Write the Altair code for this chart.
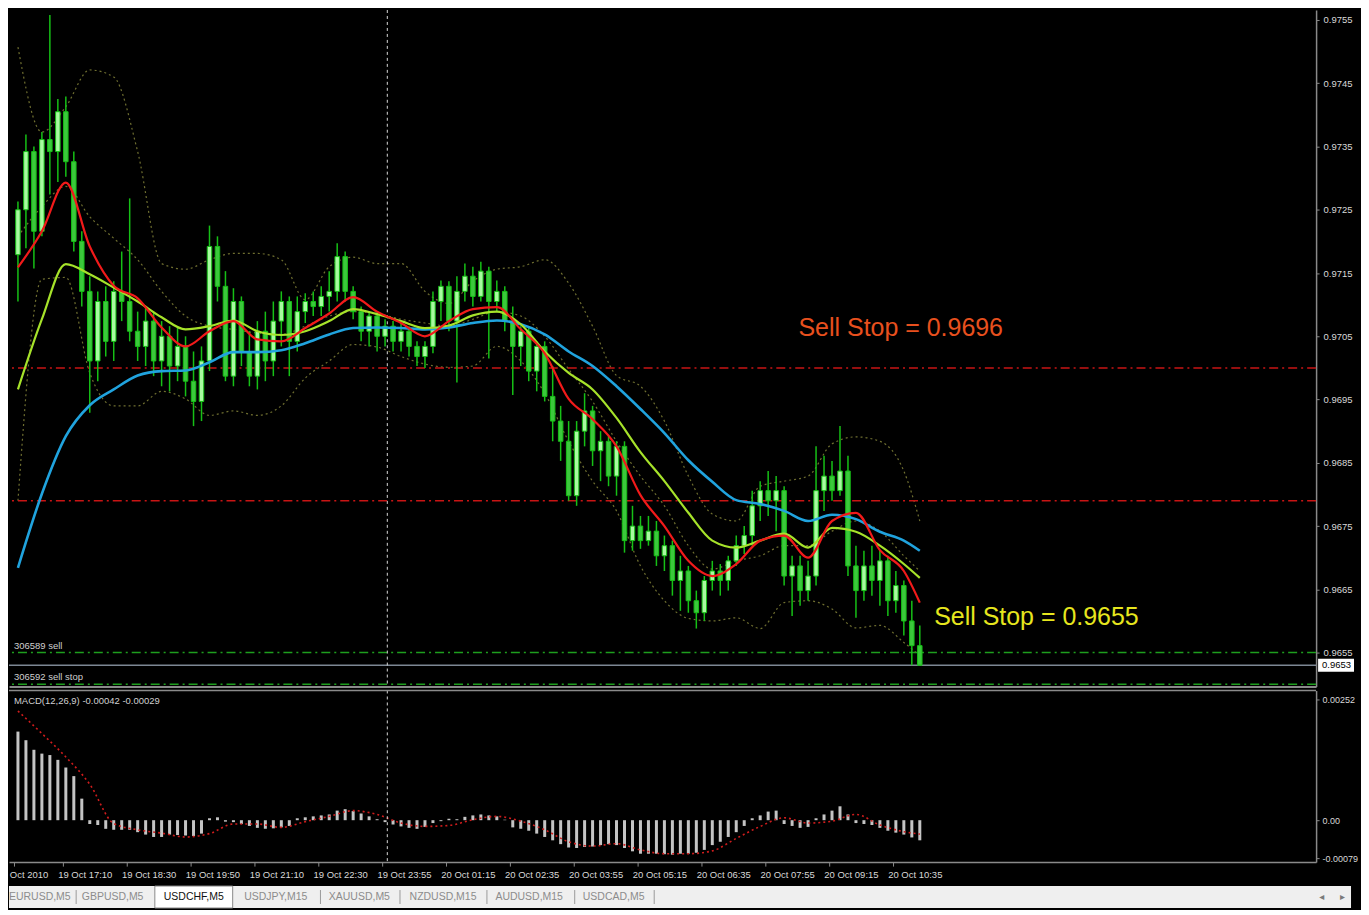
import json
import altair as alt
import pandas as pd

# ---------------- chart values ----------------
# candles: one bar per 10 minutes, open of each bar = previous close
first_open = 0.97179
close = [0.9725, 0.97342, 0.97216, 0.97361, 0.97342, 0.97405, 0.97326, 0.9720, 0.97121, 0.97011,
         0.97105, 0.97042, 0.97121, 0.97105, 0.97058, 0.97034, 0.97074, 0.97011, 0.9705, 0.97003,
         0.97034, 0.96979, 0.96947, 0.97011, 0.97192, 0.97129, 0.96987, 0.97105, 0.97026, 0.96987,
         0.97058, 0.97011, 0.97074, 0.97105, 0.97042, 0.97089, 0.97105, 0.97097, 0.97113, 0.97121,
         0.97176, 0.97121, 0.97089, 0.97058, 0.97082, 0.9705, 0.97066, 0.97042, 0.97058, 0.97034,
         0.97018, 0.97034, 0.97105, 0.97129, 0.97074, 0.97121, 0.97145, 0.97113, 0.97153, 0.97105,
         0.97121, 0.97074, 0.97034, 0.97058, 0.96995, 0.97034, 0.96955, 0.96916, 0.96884, 0.96798,
         0.969, 0.96932, 0.96869, 0.96884, 0.96829, 0.96876, 0.96727, 0.9675, 0.96727, 0.96742,
         0.96703, 0.96719, 0.96664, 0.96679, 0.96632, 0.96613, 0.96664, 0.96679, 0.96664, 0.96695,
         0.96719, 0.96735, 0.96782, 0.96806, 0.9679, 0.96806, 0.96671, 0.96687, 0.96648, 0.96671,
         0.96806, 0.96829, 0.96806, 0.96837, 0.96687, 0.96648, 0.96687, 0.96664, 0.96695, 0.96632,
         0.96656, 0.966, 0.96561, 0.9653]
high = [0.97263, 0.97369, 0.9735, 0.97373, 0.97558, 0.97425, 0.97429, 0.97342, 0.97216, 0.97145,
        0.97121, 0.97129, 0.97137, 0.97184, 0.97268, 0.97089, 0.97097, 0.97089, 0.97074, 0.97066,
        0.97066, 0.9705, 0.97026, 0.97034, 0.97225, 0.97208, 0.97153, 0.97126, 0.97113, 0.97058,
        0.97074, 0.97089, 0.97105, 0.97121, 0.97113, 0.97113, 0.97118, 0.97121, 0.97129, 0.97153,
        0.97197, 0.97184, 0.97129, 0.97097, 0.97089, 0.97089, 0.97077, 0.97074, 0.97071, 0.97066,
        0.97042, 0.97042, 0.97121, 0.97138, 0.97137, 0.97145, 0.97165, 0.9716, 0.97168, 0.9716,
        0.97138, 0.97129, 0.97097, 0.97066, 0.97066, 0.97042, 0.97042, 0.97003, 0.9694, 0.96916,
        0.96916, 0.9696, 0.9694, 0.969, 0.96892, 0.96884, 0.96884, 0.96782, 0.96766, 0.96766,
        0.96758, 0.96735, 0.96727, 0.96703, 0.96687, 0.96648, 0.96671, 0.96695, 0.9669, 0.96703,
        0.96735, 0.9675, 0.96806, 0.96821, 0.96837, 0.96829, 0.96813, 0.96703, 0.96703, 0.96695,
        0.96876, 0.96861, 0.96853, 0.96908, 0.96861, 0.96719, 0.96711, 0.96719, 0.96711, 0.96703,
        0.96679, 0.96664, 0.96632, 0.96593]
low = [0.97105, 0.97189, 0.97157, 0.97208, 0.97274, 0.97294, 0.97302, 0.97184, 0.97097, 0.96929,
       0.96979, 0.97018, 0.97011, 0.97074, 0.97042, 0.97011, 0.97003, 0.96987, 0.96971, 0.96963,
       0.96979, 0.96955, 0.96908, 0.96916, 0.96995, 0.97105, 0.96979, 0.96971, 0.97003, 0.96971,
       0.96966, 0.96979, 0.96987, 0.97034, 0.96987, 0.97026, 0.97071, 0.97082, 0.97082, 0.97089,
       0.97105, 0.97105, 0.97077, 0.97042, 0.97034, 0.97026, 0.97034, 0.97026, 0.97026, 0.97018,
       0.97003, 0.9700, 0.97023, 0.97074, 0.97058, 0.96977, 0.97105, 0.97097, 0.97105, 0.97015,
       0.97089, 0.97058, 0.96957, 0.97003, 0.96979, 0.96963, 0.96947, 0.96884, 0.96853, 0.9679,
       0.96782, 0.96876, 0.96845, 0.96821, 0.96813, 0.96798, 0.96708, 0.96711, 0.96714, 0.96719,
       0.96687, 0.96679, 0.9664, 0.96616, 0.96613, 0.96588, 0.966, 0.96648, 0.9664, 0.96648,
       0.96687, 0.96706, 0.96719, 0.96758, 0.96766, 0.96742, 0.96656, 0.96608, 0.96624, 0.96632,
       0.96656, 0.96774, 0.9679, 0.96798, 0.96671, 0.96605, 0.96632, 0.9664, 0.96624, 0.96608,
       0.96613, 0.96577, 0.9653, 0.9653]

macd_hist = [0.00185, 0.00167, 0.00147, 0.00139, 0.00136, 0.00126, 0.0011, 0.00092, 0.00045, -0.00008,
             -0.0001, -0.00018, -0.0002, -0.0002, -0.0002, -0.00025, -0.0003, -0.00035, -0.00035, -0.0003,
             -0.00031, -0.00032, -0.00033, -0.00028, 0.00004, 0.00006, -0.00003, -0.00004, -0.00008, -0.00012,
             -0.00016, -0.00018, -0.00017, -0.00015, -0.00012, 0.00004, 0.00006, 0.00008, 0.0001, 0.00012,
             0.0002, 0.00023, 0.00019, 0.00014, 0.00008, 0.00002, -0.00004, -0.00009, -0.00013, -0.00016,
             -0.00018, -0.00014, -0.00006, -0.00002, 0.00003, 0.00002, 0.00007, 0.0001, 0.00012, 0.0001,
             0.00008, 0.00001, -0.00015, -0.00018, -0.00022, -0.00028, -0.00035, -0.00042, -0.0005, -0.00057,
             -0.00058, -0.00056, -0.00055, -0.00052, -0.0005, -0.00052, -0.00058, -0.00065, -0.0007, -0.0007,
             -0.0007, -0.00071, -0.00072, -0.0007, -0.0007, -0.00068, -0.00062, -0.00052, -0.00045, -0.00035,
             -0.00025, -0.00012, 0.00004, 0.0001, 0.00018, 0.0002, -0.00008, -0.00012, -0.00016, -0.00014,
             0.00004, 0.00012, 0.0002, 0.00029, 0.00012, -0.00006, -0.00008, -0.0001, -0.00016, -0.00022,
             -0.00026, -0.0003, -0.00036, -0.00042]

# indicator lines, read every third bar
ma_bars = [0, 3, 6, 9, 12, 15, 18, 21, 24, 27, 30, 33, 36, 39, 42, 45, 48, 51, 54, 57,
           60, 63, 66, 69, 72, 75, 78, 81, 84, 87, 90, 93, 96, 99, 102, 105, 108, 111, 113]
ma_fast = [0.97159, 0.97216, 0.97293, 0.97192, 0.9713, 0.9711, 0.97064, 0.97034, 0.97058, 0.97074,
           0.97045, 0.97042, 0.97063, 0.97086, 0.97112, 0.97089, 0.97071, 0.9705, 0.97074, 0.97093,
           0.97096, 0.97061, 0.97023, 0.96951, 0.96919, 0.96876, 0.96799, 0.9675, 0.96695, 0.96671,
           0.9669, 0.96727, 0.96735, 0.967, 0.96758, 0.96771, 0.96712, 0.96679, 0.96629]
ma_mid = [0.96966, 0.97077, 0.97164, 0.97148, 0.97127, 0.97105, 0.9708, 0.97061, 0.97066, 0.97075,
          0.97058, 0.97052, 0.97058, 0.97074, 0.97093, 0.97085, 0.97074, 0.97063, 0.97067, 0.97083,
          0.97089, 0.97069, 0.97026, 0.96992, 0.96966, 0.96921, 0.96867, 0.96821, 0.96771, 0.96727,
          0.96716, 0.96727, 0.96738, 0.96716, 0.96747, 0.96741, 0.96719, 0.9669, 0.96668]
ma_slow = [0.96684, 0.96801, 0.96892, 0.96941, 0.96966, 0.96988, 0.96995, 0.96996, 0.97009, 0.97025,
           0.97025, 0.97028, 0.97039, 0.97053, 0.97063, 0.97064, 0.97063, 0.97061, 0.97064, 0.97071,
           0.97075, 0.97069, 0.97053, 0.97026, 0.97003, 0.96971, 0.96935, 0.96897, 0.96854, 0.9682,
           0.96791, 0.96785, 0.96774, 0.96758, 0.96768, 0.96761, 0.96741, 0.96727, 0.96711]
bb_upper = [0.97507, 0.97373, 0.97413, 0.97471, 0.9746, 0.97342, 0.97165, 0.97156, 0.97171, 0.97181,
            0.97181, 0.97171, 0.97108, 0.9716, 0.97175, 0.97165, 0.97165, 0.97121, 0.97102, 0.97137,
            0.97156, 0.9716, 0.97171, 0.97134, 0.97066, 0.96988, 0.96971, 0.96916, 0.96829, 0.96769,
            0.96758, 0.96813, 0.96821, 0.96829, 0.9688, 0.96891, 0.96884, 0.96837, 0.96758]
bb_middle = [0.97208, 0.97255, 0.97287, 0.97239, 0.97205, 0.97171, 0.97121, 0.97082, 0.97066, 0.97061,
             0.97055, 0.97053, 0.97066, 0.97082, 0.97089, 0.97086, 0.97077, 0.97071, 0.97066, 0.97077,
             0.97089, 0.97082, 0.9705, 0.96998, 0.96947, 0.96884, 0.96829, 0.96782, 0.96719, 0.96682,
             0.96695, 0.96703, 0.96719, 0.96719, 0.96742, 0.96758, 0.96742, 0.96703, 0.96679]
bb_lower = [0.9679, 0.9714, 0.97143, 0.96992, 0.9694, 0.9694, 0.96963, 0.96951, 0.96925, 0.96932,
            0.96925, 0.9694, 0.96984, 0.97011, 0.97037, 0.97033, 0.97018, 0.97006, 0.97001, 0.97003,
            0.97034, 0.97011, 0.9696, 0.96884, 0.96821, 0.96774, 0.96687, 0.96632, 0.96604, 0.966,
            0.96605, 0.96588, 0.96629, 0.96632, 0.96619, 0.96589, 0.96593, 0.96566, 0.96545]
macd_signal = [0.00228, 0.00181, 0.00132, 0.00075, -0.00007, -0.0002, -0.00027, -0.00035, -0.00028, -0.00008,
               -0.00008, -0.00015, -0.00003, 0.00008, 0.0002, 0.00012, -0.00006, -0.00013, -0.00011, 0.00001,
               0.00008, -0.00002, -0.0002, -0.00045, -0.00054, -0.00049, -0.00062, -0.0007, -0.0007, -0.00064,
               -0.00038, -0.00013, 0.00005, -0.00006, -0.00002, 0.00012, -0.0001, -0.00024, -0.00029]

price_ticks = [0.9655, 0.9665, 0.9675, 0.9685, 0.9695, 0.9705, 0.9715, 0.9725, 0.9735, 0.9745, 0.9755]
macd_ticks = [0.00252, 0.0, -0.00079]
macd_tick_labels = ["0.00252", "0.00", "-0.00079"]
time_tick_bars = [-0.45, 5.6, 13.6, 21.6, 29.6, 37.6, 45.6, 53.6, 61.6, 69.6, 77.6, 85.6, 93.6, 101.6, 109.6]
time_tick_labels = ["Oct 2010", "19 Oct 17:10", "19 Oct 18:30", "19 Oct 19:50", "19 Oct 21:10",
                    "19 Oct 22:30", "19 Oct 23:55", "20 Oct 01:15", "20 Oct 02:35", "20 Oct 03:55",
                    "20 Oct 05:15", "20 Oct 06:35", "20 Oct 07:55", "20 Oct 09:15", "20 Oct 10:35"]

red_levels = [0.9700, 0.9679]
green_levels = [0.9655, 0.9650]
order_labels = ["306589 sell", "306592 sell stop"]
bid_price = 0.9653
separator_bars = [46.28]
macd_title = "MACD(12,26,9) -0.00042 -0.00029"

note_red = {"text": "Sell Stop = 0.9696", "bar": 97.8, "price": 0.97063}
note_yellow = {"text": "Sell Stop = 0.9655", "bar": 114.8, "price": 0.96607}

tab_names = ["EURUSD,M5", "GBPUSD,M5", "USDCHF,M5", "USDJPY,M15", "XAUUSD,M5",
             "NZDUSD,M15", "AUDUSD,M15", "USDCAD,M5"]
tab_slots = [0.0, 0.95, 1.93, 2.92, 3.93, 4.94, 5.98, 7.0]
tab_separators = [0.51, 3.46, 4.42, 5.47, 6.53, 7.49]
active_tab = "USDCHF,M5"
active_span = [1.46, 2.40]

# ---------------- layout & style ----------------
W = 1310
H_MAIN = 678
H_MACD = 172
TAB_W = 1345
TAB_H = 22
x_domain = [-0.496, 162.03]
price_domain = [0.964964, 0.975658]
macd_domain = [-0.000875, 0.002708]

FONT = "Liberation Sans, Arial, sans-serif"
GRAY = "#8a8a8a"
LABEL = "#d8d8d8"

candles = pd.DataFrame({
    "i": list(range(len(close))),
    "open": [first_open] + close[:-1],
    "close": close,
    "high": high,
    "low": low,
})
lines = pd.DataFrame({"i": ma_bars, "fast": ma_fast, "mid": ma_mid, "slow": ma_slow,
                      "upper": bb_upper, "middle": bb_middle, "lower": bb_lower,
                      "signal": macd_signal})
hist_df = pd.DataFrame({"i": list(range(len(macd_hist))), "hist": macd_hist,
                        "zero": [0.0] * len(macd_hist)})

x_scale = alt.Scale(domain=x_domain, nice=False, zero=False)
y_scale = alt.Scale(domain=price_domain, nice=False, zero=False)
m_scale = alt.Scale(domain=macd_domain, nice=False, zero=False)

main_x_axis = alt.Axis(labels=False, ticks=False, grid=False, domain=True,
                       domainColor=GRAY, domainWidth=2, title=None)
main_y_axis = alt.Axis(orient="right", values=price_ticks, format=".4f", grid=False,
                       domainColor=GRAY, domainWidth=1.5, tickColor=GRAY, tickSize=3,
                       labelPadding=4, labelColor=LABEL, labelFont=FONT, labelFontSize=9.5,
                       title=None)
time_expr = f"{json.dumps(time_tick_labels)}[indexof({json.dumps(time_tick_bars)}, datum.value)]"
macd_x_axis = alt.Axis(values=time_tick_bars, labelExpr=time_expr, labelAlign="left",
                       labelOffset=-5, labelFlush=False, labelOverlap=False, grid=False,
                       domainColor=GRAY, domainWidth=1.5, tickColor=GRAY, tickSize=4,
                       labelPadding=3, labelColor=LABEL, labelFont=FONT, labelFontSize=9.5,
                       title=None)
macd_expr = f"{json.dumps(macd_tick_labels)}[indexof({json.dumps(macd_ticks)}, datum.value)]"
macd_y_axis = alt.Axis(orient="right", values=macd_ticks, labelExpr=macd_expr, grid=False,
                       domainColor=GRAY, domainWidth=1.5, tickColor=GRAY, tickSize=3,
                       labelPadding=3, labelColor=LABEL, labelFont=FONT, labelFontSize=9,
                       title=None)


def MX(f):
    return alt.X(f"{f}:Q", scale=x_scale, axis=main_x_axis)


def MY(f):
    return alt.Y(f"{f}:Q", scale=y_scale, axis=main_y_axis)


def NX(f):
    return alt.X(f"{f}:Q", scale=x_scale, axis=macd_x_axis)


def NY(f):
    return alt.Y(f"{f}:Q", scale=m_scale, axis=macd_y_axis)


BAND = "#6f6f30"
band_layers = [
    alt.Chart(lines).mark_line(color=BAND, strokeDash=[2, 3], strokeWidth=1.2,
                               interpolate="monotone").encode(x=MX("i"), y=MY(col))
    for col in ("upper", "middle", "lower")
]
red_rules = alt.Chart(pd.DataFrame({"price": red_levels})).mark_rule(
    color="#C81414", strokeDash=[9, 4, 2, 4], strokeWidth=1.5).encode(y=MY("price"))
green_rules = alt.Chart(pd.DataFrame({"price": green_levels})).mark_rule(
    color="#1E9E1E", strokeDash=[9, 4, 2, 4], strokeWidth=1.5).encode(y=MY("price"))
bid_rule = alt.Chart(pd.DataFrame({"price": [bid_price]})).mark_rule(
    color="#7d8794", strokeWidth=1.5).encode(y=MY("price"))
sep_main = alt.Chart(pd.DataFrame({"i": separator_bars})).mark_rule(
    color="#d8d8d8", strokeDash=[3, 3], strokeWidth=1).encode(x=MX("i"))

wicks = alt.Chart(candles).mark_rule(color="#16C016", strokeWidth=1.5).encode(
    x=MX("i"), y=MY("low"), y2="high")
bodies = alt.Chart(candles).mark_bar(size=4.5, orient="vertical", stroke="#16C016",
                                     strokeWidth=1).encode(
    x=MX("i"), y=MY("open"), y2="close",
    fill=alt.condition("datum.close >= datum.open", alt.value("#A8FAA0"), alt.value("#3CC83C")))

ma_red = alt.Chart(lines).mark_line(color="#F21A1A", strokeWidth=2.2,
                                    interpolate="monotone").encode(x=MX("i"), y=MY("fast"))
ma_yel = alt.Chart(lines).mark_line(color="#A6E22A", strokeWidth=2.2,
                                    interpolate="monotone").encode(x=MX("i"), y=MY("mid"))
ma_blue = alt.Chart(lines).mark_line(color="#20A3DE", strokeWidth=2.6,
                                     interpolate="monotone").encode(x=MX("i"), y=MY("slow"))

order_df = pd.DataFrame({"i": [x_domain[0]] * 2, "price": green_levels, "label": order_labels})
order_text = alt.Chart(order_df).mark_text(align="left", baseline="bottom", dy=-2,
                                           fontSize=9.5, font=FONT, color="#cfcfcf").encode(
    x=MX("i"), y=MY("price"), text="label:N")

note1 = alt.Chart(pd.DataFrame([note_red])).mark_text(
    align="left", baseline="middle", font=FONT, fontSize=25, color="#E8501E").encode(
    x=MX("bar"), y=MY("price"), text="text:N")
note2 = alt.Chart(pd.DataFrame([note_yellow])).mark_text(
    align="left", baseline="middle", font=FONT, fontSize=25, color="#E6E61E").encode(
    x=MX("bar"), y=MY("price"), text="text:N")

bid_df = pd.DataFrame({"price": [bid_price], "label": [f"{bid_price:.4f}"]})
bid_box = alt.Chart(bid_df).mark_rule(color="white", strokeWidth=13).encode(
    x=alt.value(W + 2), x2=alt.value(W + 38), y=MY("price"))
bid_text = alt.Chart(bid_df).mark_text(align="left", baseline="middle", color="black",
                                       fontSize=9.5, font=FONT).encode(
    x=alt.value(W + 6), y=MY("price"), text="label:N")

main = alt.layer(*band_layers, red_rules, green_rules, bid_rule, sep_main, wicks, bodies,
                 ma_blue, ma_yel, ma_red, order_text, note1, note2, bid_box, bid_text
                 ).properties(width=W, height=H_MAIN)

# ---------------- MACD panel ----------------
hist = alt.Chart(hist_df).mark_bar(size=3, orient="vertical", color="#C4C4C4").encode(
    x=NX("i"), y=NY("hist"), y2="zero")
signal = alt.Chart(lines).mark_line(color="#D01C1C", strokeDash=[2, 3], strokeWidth=1.6,
                                    interpolate="monotone").encode(x=NX("i"), y=NY("signal"))
sep_macd = alt.Chart(pd.DataFrame({"i": separator_bars})).mark_rule(
    color="#d8d8d8", strokeDash=[3, 3], strokeWidth=1).encode(x=NX("i"))
top_line = alt.Chart(pd.DataFrame({"v": [macd_domain[1]]})).mark_rule(
    color=GRAY, strokeWidth=1.5).encode(y=NY("v"))
macd_label = alt.Chart(pd.DataFrame({"i": [x_domain[0]], "v": [macd_domain[1]],
                                     "label": [macd_title]})).mark_text(
    align="left", baseline="top", dy=6, fontSize=9.5, font=FONT, color="#d0d0d0").encode(
    x=NX("i"), y=NY("v"), text="label:N")

macd = alt.layer(hist, signal, sep_macd, top_line, macd_label).properties(width=W, height=H_MACD)

# ---------------- tab strip ----------------
tab_scale = alt.Scale(domain=[-0.301, 15.904], nice=False, zero=False)
tab_df = pd.DataFrame({"name": tab_names, "slot": tab_slots,
                       "active": [n == active_tab for n in tab_names]})
first_tab = tab_df.iloc[:1].assign(slot=-0.301)
other_tabs = tab_df.iloc[1:]
active_box = alt.Chart(pd.DataFrame({"s0": [active_span[0]], "s1": [active_span[1]]})).mark_rect(
    fill="white", stroke="#8a8a8a", strokeWidth=1).encode(
    x=alt.X("s0:Q", scale=tab_scale, axis=None), x2="s1",
    y=alt.value(0), y2=alt.value(TAB_H))
tab_color = alt.condition("datum.active", alt.value("#111111"), alt.value("#8c8c8c"))
tab_text = alt.Chart(other_tabs).mark_text(fontSize=10.5, font=FONT, baseline="middle").encode(
    x=alt.X("slot:Q", scale=tab_scale, axis=None), y=alt.value(TAB_H / 2), text="name:N",
    color=tab_color)
tab_first = alt.Chart(first_tab).mark_text(fontSize=10.5, font=FONT, baseline="middle",
                                           align="left").encode(
    x=alt.X("slot:Q", scale=tab_scale, axis=None), y=alt.value(TAB_H / 2), text="name:N",
    color=tab_color)
tab_seps = alt.Chart(pd.DataFrame({"slot": tab_separators})).mark_rule(
    color="#9a9a9a", strokeWidth=1).encode(
    x=alt.X("slot:Q", scale=tab_scale, axis=None), y=alt.value(4), y2=alt.value(TAB_H - 4))
arrows = alt.Chart(pd.DataFrame({"slot": [15.55, 15.8], "g": ["\u25c2", "\u25b8"]})).mark_text(
    fontSize=10, font="DejaVu Sans", color="#7a7a7a", baseline="middle").encode(
    x=alt.X("slot:Q", scale=tab_scale, axis=None), y=alt.value(TAB_H / 2), text="g:N")

tabs = alt.layer(active_box, tab_seps, tab_first, tab_text, arrows).properties(
    width=TAB_W, height=TAB_H, view=alt.ViewBackground(fill="#EFEFEF", stroke=None))

chart = alt.vconcat(alt.vconcat(main, macd, spacing=2), tabs, spacing=6).properties(
    background="black", padding=0).configure_view(stroke=None)

chart.save("out.html", embed_options={"renderer": "svg", "actions": False})
